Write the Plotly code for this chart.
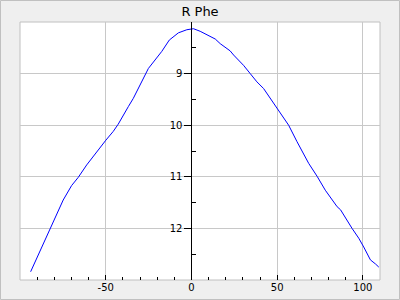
import plotly.graph_objects as go

phase = [-93.8, -82.6, -74.8, -69.9, -66.0, -61.1, -55.3, -49.9, -45.6, -42.7,
         -36.8, -33.9, -25.1, -17.3, -12.9, -7.6, -2.7, 1.2, 5.1, 13.9,
         16.8, 22.6, 24.6, 30.4, 34.3, 38.2, 42.1, 46.0, 49.9, 56.7,
         61.6, 63.5, 68.4, 73.3, 78.1, 85.0, 87.0, 93.7, 97.6, 100.5,
         104.4, 107.4, 109.3]
magnitude = [12.84, 12.0, 11.45, 11.17, 11.01, 10.77, 10.51, 10.29, 10.12, 9.98,
             9.64, 9.48, 8.90, 8.57, 8.35, 8.21, 8.15, 8.13, 8.18, 8.33,
             8.42, 8.56, 8.64, 8.84, 9.0, 9.16, 9.29, 9.48, 9.66, 10.0,
             10.32, 10.43, 10.74, 10.99, 11.26, 11.58, 11.64, 12.0, 12.19, 12.36,
             12.61, 12.69, 12.75]

x_range = [-100, 110]
y_range = [13, 8]
x_ticks = [-50, 0, 50, 100]
x_labels = ["-50", "0", "50", "100"]
x_minor = [-90, -80, -70, -60, -40, -30, -20, -10, 10, 20, 30, 40, 60, 70, 80, 90]
y_ticks = [9, 10, 11, 12]
y_labels = ["9", "10", "11", "12"]
y_minor = [8.5, 9.5, 10.5, 11.5, 12.5]
title = "R Phe"

fig = go.Figure()
fig.add_trace(go.Scatter(x=phase, y=magnitude, mode="lines",
                         line=dict(color="#0000ff", width=1), hoverinfo="skip",
                         showlegend=False))

ml, mr, mt, mb = 20, 20, 22, 20
W, H = 400, 300
pw, ph = W - ml - mr, H - mt - mb

fig.update_layout(
    width=W, height=H,
    margin=dict(l=ml, r=mr, t=mt, b=mb, pad=0, autoexpand=False),
    paper_bgcolor="#efefef", plot_bgcolor="#ffffff",
    font=dict(family="DejaVu Sans", size=10, color="#000000"),
    title=dict(text=title, x=0.5, xref="container", xanchor="center",
               y=1 - 11 / H, yref="container", yanchor="middle",
               font=dict(size=13, color="#000000")),
    xaxis=dict(range=x_range, tickmode="array", tickvals=x_ticks, ticktext=x_labels,
               ticks="inside", ticklen=5, tickcolor="#000000", tickwidth=1,
               showgrid=True, gridcolor="#c8c8c8", gridwidth=1, zeroline=False,
               showline=False, automargin=False,
               minor=dict(tickmode="array", tickvals=x_minor, ticks="inside",
                          ticklen=3, tickcolor="#000000", showgrid=False),
               fixedrange=True),
    yaxis=dict(range=y_range, tickmode="array", tickvals=y_ticks, ticktext=y_labels,
               ticks="outside", ticklen=7, tickcolor="#000000", tickwidth=1,
               showgrid=True, gridcolor="#c8c8c8", gridwidth=1, zeroline=False,
               showline=True, linecolor="#000000", linewidth=1, automargin=False,
               anchor="free", position=(0 - x_range[0]) / (x_range[1] - x_range[0]),
               minor=dict(tickmode="array", tickvals=y_minor, ticks="inside",
                          ticklen=4, tickcolor="#000000", showgrid=False),
               fixedrange=True),
    shapes=[
        dict(type="rect", xref="paper", yref="paper", x0=0, x1=1, y0=0, y1=1,
             line=dict(color="#c0c0c0", width=1), layer="below"),
        dict(type="rect", xref="paper", yref="paper",
             x0=(0.5 - ml) / pw, x1=(W - 0.5 - ml) / pw,
             y0=-(mb - 0.5) / ph, y1=1 + (mt - 0.5) / ph,
             line=dict(color="#c0c0c0", width=1), layer="below"),
    ],
)

fig.write_html("out.html", config={"displayModeBar": False})
